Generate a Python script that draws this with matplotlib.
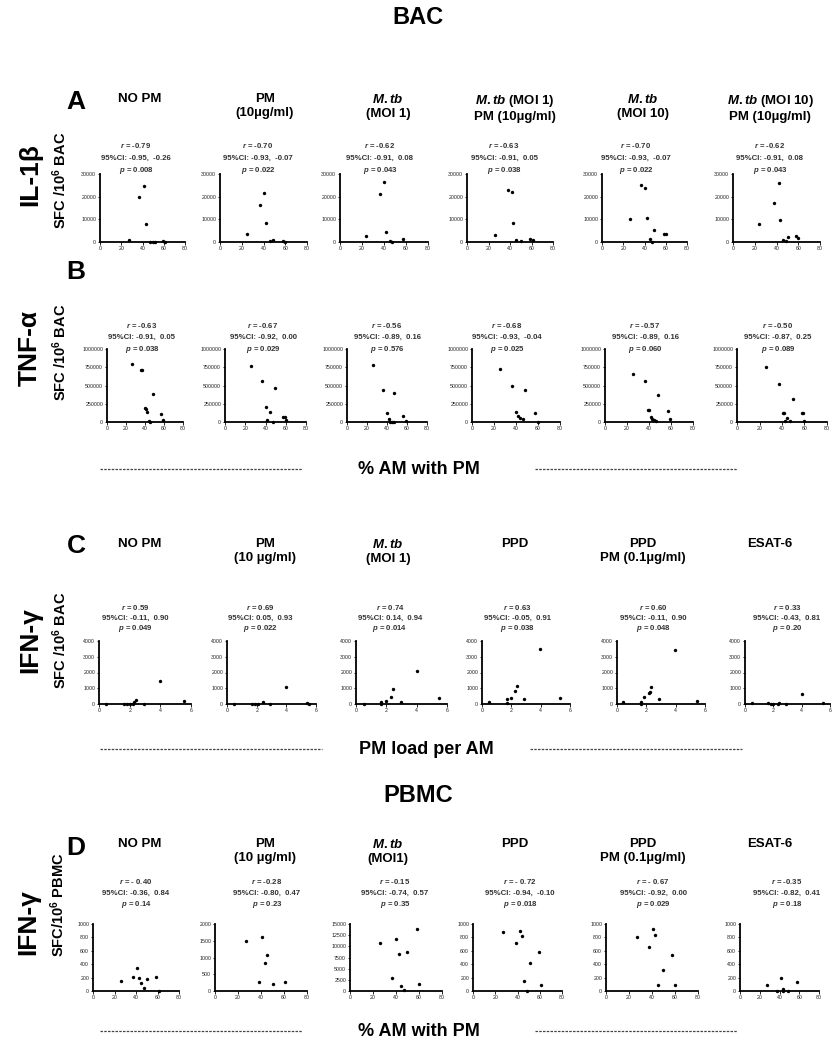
import numpy as np
import matplotlib
matplotlib.use("Agg")
import matplotlib.pyplot as plt

plt.rcParams['font.family'] = ['Liberation Sans', 'DejaVu Sans']
plt.rcParams['mathtext.fontset'] = 'custom'
plt.rcParams['mathtext.rm'] = 'Liberation Sans:bold'
plt.rcParams['mathtext.it'] = 'Liberation Sans:italic:bold'
plt.rcParams['mathtext.bf'] = 'Liberation Sans:bold'

W, H = 836, 1050

# ---------------- data ----------------
# Row A: IL-1b SFC vs % AM with PM
il1b_x = [[27, 37, 41, 43, 47, 50, 52, 59, 61],
          [25, 37, 40.5, 42, 46, 49, 58, 60],
          [24, 36, 40, 42, 45, 47.5, 57.5],
          [26, 38, 41.5, 43, 45.5, 50, 59, 61],
          [26, 37, 40.5, 42.7, 45, 47, 49, 58, 60],
          [24, 38, 42, 43.4, 46, 49, 51, 58, 60]]
il1b_y = [[800, 20000, 24500, 7800, 200, 200, 200, 300, 0],
          [3500, 16500, 21500, 8500, 600, 800, 500, 0],
          [2500, 21000, 26500, 4500, 500, 0, 1500],
          [3000, 23000, 22000, 8200, 700, 400, 1500, 900],
          [10300, 25000, 23700, 10400, 1500, 100, 5300, 3400, 3400],
          [7800, 17000, 26000, 9500, 900, 400, 2300, 2600, 1600]]

# Row B: TNF-a SFC vs % AM with PM
tnf_x = [[26, 36, 37, 48.4, 39.6, 41.4, 42, 44, 45.6, 56.5, 59],
         [26, 36.8, 49, 40.8, 44, 41.5, 47, 57.4, 59, 60.7],
         [25.7, 36, 47.3, 40, 41.7, 43, 45, 46.7, 55.7, 58.7],
         [25.7, 36.2, 48.6, 40.2, 41.7, 43.8, 46, 57.4, 59.8],
         [25, 36.2, 48.3, 39.2, 40, 41.7, 43, 44.7, 46, 57.4, 59.5],
         [26, 37, 49.5, 40.6, 41.5, 44.4, 46.8, 42.9, 57.8, 58.7, 59.9]]
tnf_y = [[790000, 714000, 710000, 377000, 195000, 182000, 136000, 14000, 0, 105000, 32000],
         [767000, 558000, 465000, 200000, 140000, 33000, 0, 65000, 65000, 23000],
         [782000, 432000, 400000, 123000, 41000, 0, 0, 0, 82000, 14000],
         [732000, 488000, 432000, 131000, 85000, 52000, 38000, 117000, 0],
         [663000, 559000, 370000, 166000, 166000, 62000, 38000, 24000, 14000, 147000, 47000],
         [748000, 514000, 310000, 129000, 129000, 48000, 14000, 10000, 129000, 119000, 14000]]

# Row C: IFN-g SFC (BAC) vs PM load per AM
ifn_bac_x = [[0.45, 1.65, 1.8, 2.0, 2.2, 2.3, 2.4, 2.95, 4.0, 5.55],
             [0.5, 1.7, 1.9, 2.1, 2.4, 2.9, 4.0, 5.4, 5.5],
             [0.5, 1.66, 1.66, 2.0, 2.3, 2.42, 2.95, 4.0, 5.5],
             [0.5, 1.7, 1.7, 1.97, 2.26, 2.42, 2.83, 3.95, 5.3],
             [0.4, 1.63, 1.65, 1.86, 2.2, 2.26, 2.33, 2.83, 3.95, 5.43],
             [0.47, 1.65, 1.84, 2.0, 2.3, 2.4, 2.9, 4.0, 5.5]]
ifn_bac_y = [[0, 0, 0, 0, 0, 100, 250, 0, 1490, 200],
             [0, 0, 0, 0, 130, 0, 1060, 60, 0],
             [0, 120, 0, 200, 420, 940, 120, 2100, 360],
             [100, 300, 40, 350, 830, 1150, 310, 3500, 350],
             [105, 147, 0, 420, 670, 740, 1050, 315, 3450, 210],
             [80, 40, 0, 0, 0, 40, 0, 650, 40]]

# Row D: IFN-g SFC (PBMC) vs % AM with PM
ifn_pbmc_x = [[26, 37.5, 41, 43, 45, 47.5, 50, 58.6, 61],
              [27, 38, 41, 43.4, 45.5, 50, 61],
              [26.4, 36.9, 40.4, 42.8, 44.2, 46.9, 49.2, 58, 60],
              [27, 38.5, 42, 43.7, 45.5, 48.3, 50.8, 59, 61.5],
              [27, 37.7, 41, 42.6, 45, 49.2, 57.6, 60.4],
              [27, 37.8, 41.2, 43.2, 43.9, 49, 58]]
ifn_pbmc_y = [[145, 214, 348, 198, 120, 42, 183, 214, 5],
              [1500, 275, 1600, 840, 1060, 200, 255],
              [10770, 2850, 11540, 8230, 1080, 150, 8620, 13850, 1540],
              [880, 720, 900, 820, 150, 0, 420, 580, 90],
              [800, 650, 930, 840, 90, 320, 540, 90],
              [90, 5, 190, 25, 5, 5, 140]]

# stats (r, CI low, CI high, p)
stats_a = [("-0.79", "-0.95", "-0.26", "0.008"), ("-0.70", "-0.93", "-0.07", "0.022"),
           ("-0.62", "-0.91", "0.08", "0.043"), ("-0.63", "-0.91", "0.05", "0.038"),
           ("-0.70", "-0.93", "-0.07", "0.022"), ("-0.62", "-0.91", "0.08", "0.043")]
stats_b = [("-0.63", "-0.91", "0.05", "0.038"), ("-0.67", "-0.92", "0.00", "0.029"),
           ("-0.56", "-0.89", "0.16", "0.576"), ("-0.68", "-0.93", "-0.04", "0.025"),
           ("-0.57", "-0.89", "0.16", "0.060"), ("-0.50", "-0.87", "0.25", "0.089")]
stats_c = [("0.59", "-0.11", "0.90", "0.049"), ("0.69", "0.05", "0.93", "0.022"),
           ("0.74", "0.14", "0.94", "0.014"), ("0.63", "-0.05", "0.91", "0.038"),
           ("0.60", "-0.11", "0.90", "0.048"), ("0.33", "-0.43", "0.81", "0.20")]
stats_d = [("- 0.40", "-0.36", "0.84", "0.14"), ("-0.28", "-0.80", "0.47", "0.23"),
           ("-0.15", "-0.74", "0.57", "0.35"), ("- 0.72", "-0.94", "-0.10", "0.018"),
           ("- 0.67", "-0.92", "0.00", "0.029"), ("-0.35", "-0.82", "0.41", "0.18")]

heads_a = ["NO PM", "PM\n(10µg/ml)", "$\\mathit{M.tb}$\n(MOI 1)",
           "$\\mathit{M.tb}$ (MOI 1)\nPM (10µg/ml)", "$\\mathit{M.tb}$\n(MOI 10)",
           "$\\mathit{M.tb}$ (MOI 10)\nPM (10µg/ml)"]
heads_c = ["NO PM", "PM\n(10 µg/ml)", "$\\mathit{M.tb}$\n(MOI 1)", "PPD",
           "PPD\nPM (0.1µg/ml)", "ESAT-6"]
heads_d = ["NO PM", "PM\n(10 µg/ml)", "$\\mathit{M.tb}$\n(MOI1)", "PPD",
           "PPD\nPM (0.1µg/ml)", "ESAT-6"]

ticks_a = [0, 10000, 20000, 30000]
ticks_b = [0, 250000, 500000, 750000, 1000000]
ticks_c = [0, 1000, 2000, 3000, 4000]
ticks_d = [[0, 200, 400, 600, 800, 1000], [0, 500, 1000, 1500, 2000],
           [0, 2500, 5000, 7500, 10000, 12500, 15000], [0, 200, 400, 600, 800, 1000],
           [0, 200, 400, 600, 800, 1000], [0, 200, 400, 600, 800, 1000]]
xt_pct = [0, 20, 40, 60, 80]
xt_load = [0, 2, 4, 6]

fig = plt.figure(figsize=(W / 100, H / 100), dpi=100)


def ftext(x, y, s, **kw):
    # place text using pixel coords (origin top-left)
    kw.setdefault('ha', 'center')
    kw.setdefault('va', 'center')
    return fig.text(x / W, 1 - y / H, s, **kw)


def panel(left, right, top, bottom, xs, ys, xticks, yticks):
    ax = fig.add_axes([left / W, 1 - bottom / H, (right - left) / W, (bottom - top) / H])
    ax.scatter(xs, ys, s=6, c='black', linewidths=0, clip_on=False, zorder=3)
    ax.set_xlim(xticks[0], xticks[-1])
    ax.set_ylim(yticks[0], yticks[-1])
    ax.set_xticks(xticks)
    ax.set_yticks(yticks)
    ax.set_yticklabels([str(t) for t in yticks])
    for s in ['top', 'right']:
        ax.spines[s].set_visible(False)
    for s in ['left', 'bottom']:
        ax.spines[s].set_linewidth(1.3)
    ax.tick_params(labelsize=3.8, length=1.8, width=0.7, pad=1, colors='#222222')
    ax.patch.set_alpha(0)
    return ax


def stat_block(x, y_r, st, gap):
    r, lo, hi, p = st
    kw = dict(fontsize=5.6, color='#333333', fontweight='bold')
    ftext(x, y_r, "$\\mathit{r}$ = " + r, **kw)
    ftext(x, y_r + gap, "95%CI: " + lo + ",  " + hi, **kw)
    ftext(x, y_r + 2 * gap, "$\\mathit{p}$ = " + p, **kw)


head_x = [140, 265, 388, 515, 643, 770]
hkw = dict(fontsize=9.5, fontweight='bold', linespacing=1.25)
lkw = dict(fontsize=19, fontweight='bold', rotation=90)
skw = dict(fontsize=10.5, fontweight='bold', rotation=90)
letter_kw = dict(fontsize=19, fontweight='bold')

# titles
ftext(418, 18, "BAC", fontsize=17, fontweight='bold')
ftext(418, 795, "PBMC", fontsize=17, fontweight='bold')

# ---- row A ----
ftext(76, 102, "A", **letter_kw)
for i, h in enumerate(heads_a):
    ftext(head_x[i], 93, h, va='top', **hkw)
lefts = [100, 220, 340, 467, 602, 733]
rights = [185, 307, 428, 553, 687, 820]
sx = [136, 258, 380, 504, 636, 770]
for i in range(6):
    panel(lefts[i], rights[i], 174, 242, il1b_x[i], il1b_y[i], xt_pct, ticks_a)
    stat_block(sx[i], 146, stats_a[i], 12)
ftext(30, 175, "IL-1β", **lkw)
ftext(60, 180, "SFC /10$^{6}$ BAC", **skw)

# ---- row B ----
ftext(76, 272, "B", **letter_kw)
lefts = [107, 225, 347, 472, 605, 737]
rights = [183, 306, 427, 560, 693, 827]
sx = [142, 263, 387, 507, 645, 778]
for i in range(6):
    panel(lefts[i], rights[i], 349, 422, tnf_x[i], tnf_y[i], xt_pct, ticks_b)
    stat_block(sx[i], 326, stats_b[i], 11.5)
ftext(30, 348, "TNF-α", **lkw)
ftext(60, 352, "SFC /10$^{6}$ BAC", **skw)


def dashed_axis_label(y, text, x1, x2, x3, x4):
    line_kw = dict(color='#444444', lw=0.9, ls=(0, (2, 1)), transform=fig.transFigure)
    fig.add_artist(plt.Line2D([x1 / W, x2 / W], [1 - y / H, 1 - y / H], **line_kw))
    fig.add_artist(plt.Line2D([x3 / W, x4 / W], [1 - y / H, 1 - y / H], **line_kw))
    ftext((x2 + x3) / 2, y, text, fontsize=13, fontweight='bold')


dashed_axis_label(469, "% AM with PM", 100, 302, 535, 737)

# ---- row C ----
ftext(76, 546, "C", **letter_kw)
for i, h in enumerate(heads_c):
    ftext(head_x[i], 538, h, va='top', **hkw)
lefts = [99, 227, 356, 482, 617, 745]
rights = [191, 316, 447, 570, 705, 830]
sx = [135, 260, 390, 517, 653, 787]
for i in range(6):
    panel(lefts[i], rights[i], 641, 704, ifn_bac_x[i], ifn_bac_y[i], xt_load, ticks_c)
    stat_block(sx[i], 607, stats_c[i], 11)
ftext(30, 640, "IFN-γ", **lkw)
ftext(60, 640, "SFC /10$^{6}$ BAC", **skw)

dashed_axis_label(749, "PM load per AM", 100, 322, 530, 742)

# ---- row D ----
ftext(76, 848, "D", **letter_kw)
for i, h in enumerate(heads_d):
    ftext(head_x[i], 838, h, va='top', **hkw)
lefts = [93, 215, 350, 473, 606, 740]
rights = [179, 307, 442, 562, 698, 819]
sx = [136, 267, 395, 520, 653, 787]
for i in range(6):
    panel(lefts[i], rights[i], 924, 991, ifn_pbmc_x[i], ifn_pbmc_y[i], xt_pct, ticks_d[i])
    stat_block(sx[i], 882, stats_d[i], 11)
ftext(28, 922, "IFN-γ", **lkw)
ftext(58, 905, "SFC/10$^{6}$ PBMC", **skw)

dashed_axis_label(1031, "% AM with PM", 100, 302, 535, 737)

fig.savefig("out.png", dpi=100)
